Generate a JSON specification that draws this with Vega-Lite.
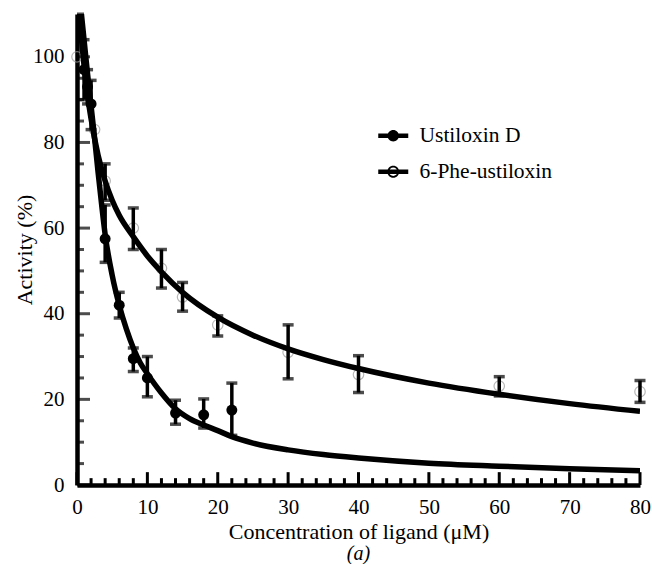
{
  "$schema": "https://vega.github.io/schema/vega-lite/v6.json",
  "width": 563,
  "height": 471,
  "autosize": "none",
  "padding": {"left": 77, "top": 14, "right": 12, "bottom": 79},
  "background": "white",
  "config": {
    "view": {"stroke": null},
    "axis": {
      "labelFont": "Liberation Serif", "labelFontSize": 21, "labelColor": "black",
      "titleFont": "Liberation Serif", "titleFontSize": 22, "titleFontWeight": "normal", "titleColor": "black",
      "domainColor": "black", "domainWidth": 4.5, "labelFlush": false, "labelOverlap": false
    }
  },
  "resolve": {"axis": {"x": "independent", "y": "independent"}},
  "title": {"text": "(a)", "orient": "bottom", "font": "Liberation Serif", "fontSize": 20, "fontStyle": "italic", "fontWeight": "normal", "color": "black", "offset": 2, "anchor": "middle"},
  "datasets": {
    "xticks": [
      {"v": 0}, {"v": 2}, {"v": 4}, {"v": 6}, {"v": 8}, {"v": 10}, {"v": 12}, {"v": 14}, {"v": 16}, {"v": 18},
      {"v": 20}, {"v": 22}, {"v": 24}, {"v": 26}, {"v": 28}, {"v": 30}, {"v": 32}, {"v": 34}, {"v": 36}, {"v": 38},
      {"v": 40}, {"v": 42}, {"v": 44}, {"v": 46}, {"v": 48}, {"v": 50}, {"v": 52}, {"v": 54}, {"v": 56}, {"v": 58},
      {"v": 60}, {"v": 62}, {"v": 64}, {"v": 66}, {"v": 68}, {"v": 70}, {"v": 72}, {"v": 74}, {"v": 76}, {"v": 78}, {"v": 80}
    ],
    "yticks": [
      {"v": 0}, {"v": 5}, {"v": 10}, {"v": 15}, {"v": 20}, {"v": 25}, {"v": 30}, {"v": 35}, {"v": 40}, {"v": 45}, {"v": 50},
      {"v": 55}, {"v": 60}, {"v": 65}, {"v": 70}, {"v": 75}, {"v": 80}, {"v": 85}, {"v": 90}, {"v": 95}, {"v": 100}, {"v": 105}, {"v": 110}
    ],
    "curves": [
      {"series": "Ustiloxin D", "x": 0.5, "y": 112}, {"series": "Ustiloxin D", "x": 1, "y": 104}, {"series": "Ustiloxin D", "x": 1.5, "y": 96},
      {"series": "Ustiloxin D", "x": 2, "y": 88.5}, {"series": "Ustiloxin D", "x": 2.5, "y": 81}, {"series": "Ustiloxin D", "x": 3, "y": 73},
      {"series": "Ustiloxin D", "x": 3.5, "y": 65.5}, {"series": "Ustiloxin D", "x": 4, "y": 58.5}, {"series": "Ustiloxin D", "x": 5, "y": 49},
      {"series": "Ustiloxin D", "x": 6, "y": 42}, {"series": "Ustiloxin D", "x": 7, "y": 36.5}, {"series": "Ustiloxin D", "x": 8, "y": 32},
      {"series": "Ustiloxin D", "x": 9, "y": 28.5}, {"series": "Ustiloxin D", "x": 10, "y": 26}, {"series": "Ustiloxin D", "x": 12, "y": 21.5},
      {"series": "Ustiloxin D", "x": 14, "y": 17.8}, {"series": "Ustiloxin D", "x": 16, "y": 15.5}, {"series": "Ustiloxin D", "x": 18, "y": 14},
      {"series": "Ustiloxin D", "x": 20, "y": 12.7}, {"series": "Ustiloxin D", "x": 22, "y": 11.3}, {"series": "Ustiloxin D", "x": 25, "y": 9.8},
      {"series": "Ustiloxin D", "x": 30, "y": 8.2}, {"series": "Ustiloxin D", "x": 35, "y": 7.1}, {"series": "Ustiloxin D", "x": 40, "y": 6.3},
      {"series": "Ustiloxin D", "x": 50, "y": 5.1}, {"series": "Ustiloxin D", "x": 60, "y": 4.4}, {"series": "Ustiloxin D", "x": 70, "y": 3.8},
      {"series": "Ustiloxin D", "x": 80, "y": 3.3},
      {"series": "6-Phe-ustiloxin", "x": 0.3, "y": 112}, {"series": "6-Phe-ustiloxin", "x": 0.6, "y": 105}, {"series": "6-Phe-ustiloxin", "x": 1, "y": 98},
      {"series": "6-Phe-ustiloxin", "x": 1.5, "y": 91}, {"series": "6-Phe-ustiloxin", "x": 2, "y": 85.5}, {"series": "6-Phe-ustiloxin", "x": 3, "y": 77},
      {"series": "6-Phe-ustiloxin", "x": 4, "y": 71}, {"series": "6-Phe-ustiloxin", "x": 5, "y": 66.5}, {"series": "6-Phe-ustiloxin", "x": 6, "y": 63},
      {"series": "6-Phe-ustiloxin", "x": 8, "y": 58}, {"series": "6-Phe-ustiloxin", "x": 10, "y": 53.5}, {"series": "6-Phe-ustiloxin", "x": 12, "y": 49.8},
      {"series": "6-Phe-ustiloxin", "x": 15, "y": 45}, {"series": "6-Phe-ustiloxin", "x": 20, "y": 39.2}, {"series": "6-Phe-ustiloxin", "x": 25, "y": 35},
      {"series": "6-Phe-ustiloxin", "x": 30, "y": 31.8}, {"series": "6-Phe-ustiloxin", "x": 35, "y": 29.3}, {"series": "6-Phe-ustiloxin", "x": 40, "y": 27.2},
      {"series": "6-Phe-ustiloxin", "x": 50, "y": 23.8}, {"series": "6-Phe-ustiloxin", "x": 60, "y": 21.2}, {"series": "6-Phe-ustiloxin", "x": 70, "y": 19},
      {"series": "6-Phe-ustiloxin", "x": 80, "y": 17.2}
    ],
    "points": [
      {"series": "Ustiloxin D", "x": 1, "y": 97, "lo": 90, "hi": 104},
      {"series": "Ustiloxin D", "x": 1.5, "y": 93, "lo": 89, "hi": 97},
      {"series": "Ustiloxin D", "x": 2, "y": 89, "lo": 83, "hi": 94.5},
      {"series": "Ustiloxin D", "x": 4, "y": 57.5, "lo": 52, "hi": 65.4},
      {"series": "Ustiloxin D", "x": 6, "y": 42, "lo": 39, "hi": 45},
      {"series": "Ustiloxin D", "x": 8, "y": 29.5, "lo": 26.5, "hi": 32},
      {"series": "Ustiloxin D", "x": 10, "y": 25, "lo": 20.6, "hi": 30},
      {"series": "Ustiloxin D", "x": 14, "y": 16.8, "lo": 14.2, "hi": 19.8},
      {"series": "Ustiloxin D", "x": 18, "y": 16.4, "lo": 13.3, "hi": 20.1},
      {"series": "Ustiloxin D", "x": 22, "y": 17.5, "lo": 11.6, "hi": 23.8},
      {"series": "6-Phe-ustiloxin", "x": 0, "y": 100},
      {"series": "6-Phe-ustiloxin", "x": 2.5, "y": 83},
      {"series": "6-Phe-ustiloxin", "x": 4, "y": 71, "lo": 66.5, "hi": 75},
      {"series": "6-Phe-ustiloxin", "x": 8, "y": 60, "lo": 55, "hi": 64.7},
      {"series": "6-Phe-ustiloxin", "x": 12, "y": 50.6, "lo": 46, "hi": 55},
      {"series": "6-Phe-ustiloxin", "x": 15, "y": 43.9, "lo": 40.6, "hi": 47.3},
      {"series": "6-Phe-ustiloxin", "x": 20, "y": 37.4, "lo": 34.8, "hi": 39.5},
      {"series": "6-Phe-ustiloxin", "x": 30, "y": 31, "lo": 24.8, "hi": 37.4},
      {"series": "6-Phe-ustiloxin", "x": 40, "y": 25.8, "lo": 21.6, "hi": 30.2},
      {"series": "6-Phe-ustiloxin", "x": 60, "y": 23.1, "lo": 20.8, "hi": 25.3},
      {"series": "6-Phe-ustiloxin", "x": 80, "y": 21.8, "lo": 19.3, "hi": 24.4}
    ]
  },
  "layer": [
    {
      "data": {"name": "points"},
      "transform": [{"filter": "datum.series === '6-Phe-ustiloxin'"}],
      "mark": {"type": "point", "filled": false, "stroke": "#9a9a9a", "strokeWidth": 1.2, "size": 110},
      "encoding": {
        "x": {"field": "x", "type": "quantitative", "title": "Concentration of ligand (μM)",
          "scale": {"domain": [0, 80], "nice": false, "zero": false},
          "axis": {"orient": "bottom", "values": [0,10,20,30,40,50,60,70,80], "ticks": false, "grid": false,
            "labelPadding": 11, "titlePadding": 4}},
        "y": {"field": "y", "type": "quantitative", "title": "Activity (%)",
          "scale": {"domain": [0, 110], "nice": false},
          "axis": {"orient": "left", "values": [0,20,40,60,80,100], "ticks": false, "grid": false,
            "labelPadding": 13, "titlePadding": -4}}
      }
    },
    {
      "data": {"name": "xticks"},
      "transform": [{"filter": "datum.v % 10 === 0"}],
      "mark": {"type": "rule", "color": "black", "strokeWidth": 3},
      "encoding": {
        "x": {"field": "v", "type": "quantitative", "axis": null},
        "y": {"datum": 0, "type": "quantitative", "axis": null},
        "y2": {"datum": 3}
      }
    },
    {
      "data": {"name": "xticks"},
      "transform": [{"filter": "datum.v % 10 !== 0"}],
      "mark": {"type": "rule", "color": "black", "strokeWidth": 3},
      "encoding": {
        "x": {"field": "v", "type": "quantitative", "axis": null},
        "y": {"datum": 0, "type": "quantitative", "axis": null},
        "y2": {"datum": 1.6}
      }
    },
    {
      "data": {"name": "yticks"},
      "transform": [{"filter": "datum.v % 20 === 0"}],
      "mark": {"type": "tick", "orient": "horizontal", "color": "black", "size": 13, "thickness": 3, "xOffset": 6.5},
      "encoding": {
        "y": {"field": "v", "type": "quantitative", "axis": null},
        "x": {"datum": 0, "type": "quantitative", "axis": null}
      }
    },
    {
      "data": {"name": "yticks"},
      "transform": [{"filter": "datum.v % 20 !== 0"}],
      "mark": {"type": "tick", "orient": "horizontal", "color": "black", "size": 7, "thickness": 3, "xOffset": 3.5},
      "encoding": {
        "y": {"field": "v", "type": "quantitative", "axis": null},
        "x": {"datum": 0, "type": "quantitative", "axis": null}
      }
    },
    {
      "data": {"name": "curves"},
      "mark": {"type": "line", "color": "black", "strokeWidth": 5.5, "interpolate": "monotone", "clip": true},
      "encoding": {
        "x": {"field": "x", "type": "quantitative", "axis": null},
        "y": {"field": "y", "type": "quantitative", "axis": null},
        "detail": {"field": "series"}
      }
    },
    {
      "data": {"name": "points"},
      "transform": [{"filter": "isValid(datum.lo)"}],
      "mark": {"type": "rule", "color": "black", "strokeWidth": 3.5},
      "encoding": {
        "x": {"field": "x", "type": "quantitative", "axis": null},
        "y": {"field": "lo", "type": "quantitative", "axis": null},
        "y2": {"field": "hi"}
      }
    },
    {
      "data": {"name": "points"},
      "transform": [{"filter": "isValid(datum.lo)"}],
      "mark": {"type": "tick", "orient": "horizontal", "color": "black", "size": 11, "thickness": 3.5},
      "encoding": {
        "x": {"field": "x", "type": "quantitative", "axis": null},
        "y": {"field": "lo", "type": "quantitative", "axis": null}
      }
    },
    {
      "data": {"name": "points"},
      "transform": [{"filter": "isValid(datum.hi)"}],
      "mark": {"type": "tick", "orient": "horizontal", "color": "black", "size": 11, "thickness": 3.5},
      "encoding": {
        "x": {"field": "x", "type": "quantitative", "axis": null},
        "y": {"field": "hi", "type": "quantitative", "axis": null}
      }
    },
    {
      "data": {"name": "points"},
      "transform": [{"filter": "datum.series === 'Ustiloxin D'"}],
      "mark": {"type": "point", "filled": true, "color": "black", "size": 120, "opacity": 1},
      "encoding": {
        "x": {"field": "x", "type": "quantitative", "axis": null},
        "y": {"field": "y", "type": "quantitative", "axis": null}
      }
    },
    {
      "data": {"name": "points"},
      "mark": {"type": "point", "filled": true, "color": "black", "opacity": 0},
      "encoding": {
        "x": {"field": "x", "type": "quantitative", "axis": null},
        "y": {"field": "y", "type": "quantitative", "axis": null},
        "shape": {"field": "series", "type": "nominal",
          "scale": {"domain": ["Ustiloxin D", "6-Phe-ustiloxin"],
            "range": [
              "M-1.5,-0.22H1.5V0.22H-1.5Z M-0.57,0A0.57,0.57 0 1 1 0.57,0A0.57,0.57 0 1 1 -0.57,0Z",
              "M-1.5,-0.22H1.5V0.22H-1.5Z M-0.6,0A0.6,0.6 0 1 1 0.6,0A0.6,0.6 0 1 1 -0.6,0Z M-0.42,0A0.42,0.42 0 1 0 0.42,0A0.42,0.42 0 1 0 -0.42,0Z"
            ]},
          "legend": {"orient": "none", "legendX": 305.5, "legendY": 111, "title": null, "padding": 0,
            "symbolSize": 400, "symbolOpacity": 1, "symbolFillColor": "black", "symbolStrokeColor": "black", "symbolStrokeWidth": 0,
            "labelFont": "Liberation Serif", "labelFontSize": 21.5, "labelColor": "black", "labelOffset": 15.5, "rowPadding": 13, "labelLimit": 300}
        }
      }
    }
  ]
}
